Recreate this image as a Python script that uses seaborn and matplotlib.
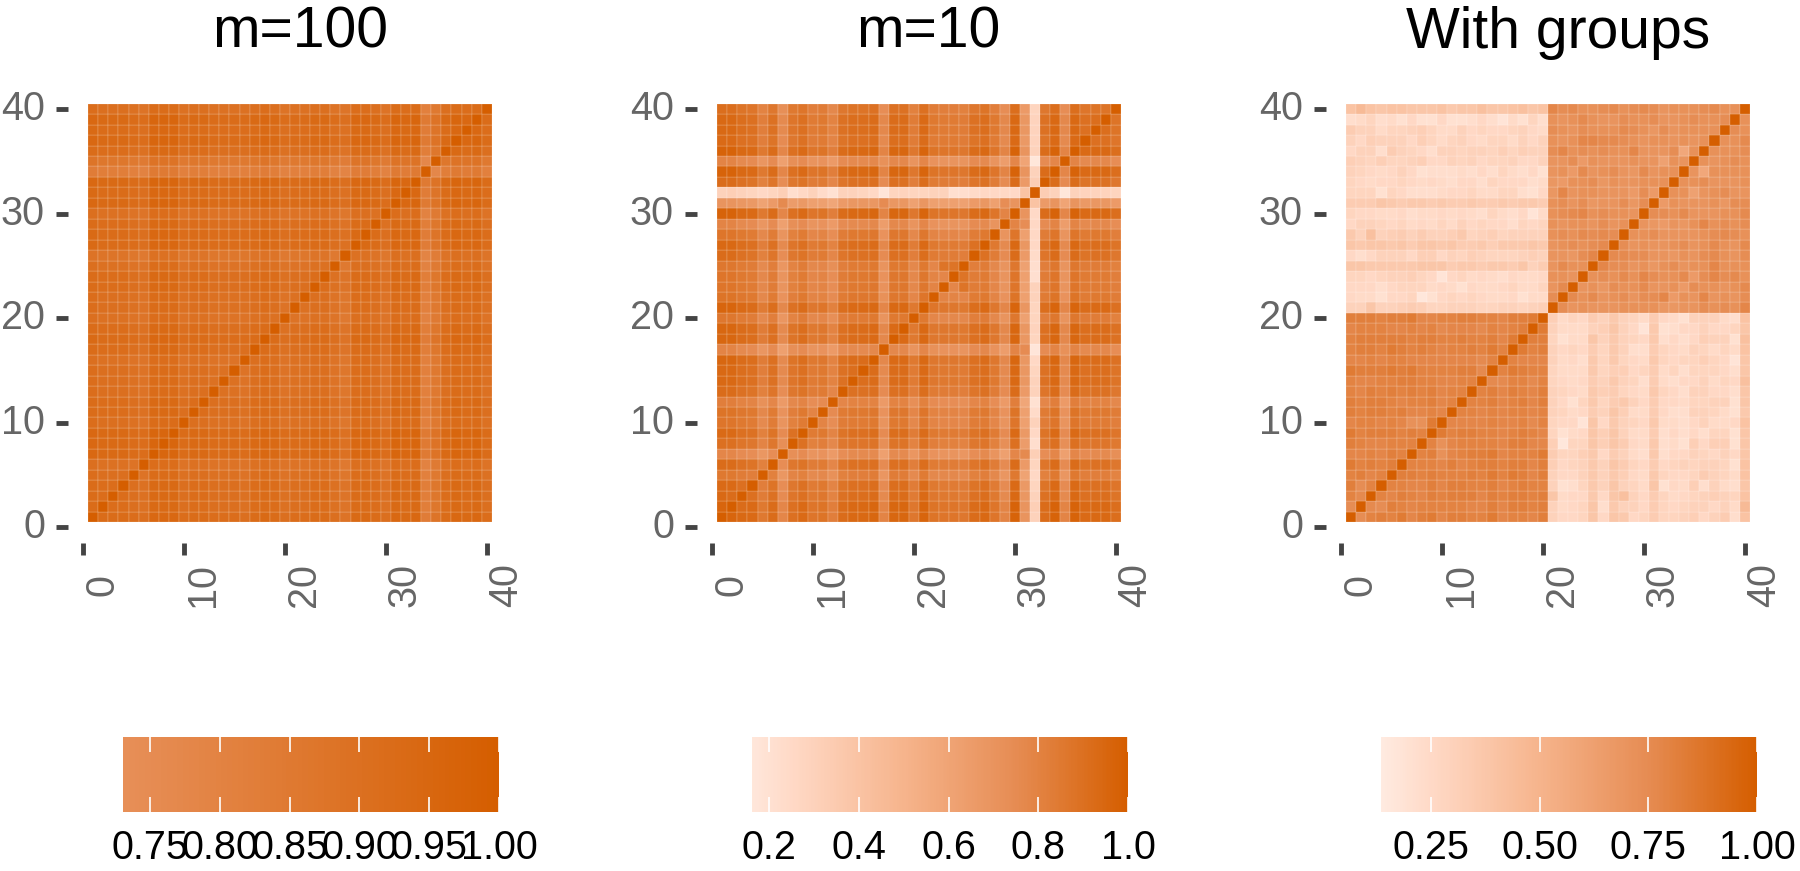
import numpy as np
import pandas as pd
import seaborn as sns
from matplotlib import pyplot as plt
from matplotlib.colors import LinearSegmentedColormap, ListedColormap

# lower triangles of the three similarity matrices, in percent, rows 2..40
m100_rows = """94
94 93
94 93 93
93 92 92 92
92 91 91 91 90
96 95 95 95 94 93
96 95 95 95 94 93 97
96 95 95 95 94 93 97 97
93 92 92 92 91 90 94 94 94
94 93 93 93 92 91 95 95 95 92
94 93 93 93 92 91 95 95 95 92 93
93 92 92 92 91 90 94 94 94 91 92 92
93 92 92 92 91 90 94 94 94 91 92 92 91
93 92 92 92 91 90 94 94 94 91 92 92 91 91
92 91 91 91 90 89 93 93 93 90 91 91 90 90 90
94 93 93 93 92 91 95 95 95 92 93 93 92 92 92 92
95 94 94 94 93 92 96 96 96 93 94 94 93 93 93 93 94
94 93 93 93 92 91 95 95 95 92 93 93 92 92 92 92 93 94
92 91 91 91 90 89 93 93 93 90 91 91 90 90 90 90 91 92 91
93 92 92 92 91 90 94 94 94 91 92 92 91 91 91 91 92 93 92 90
93 92 92 92 91 90 94 94 94 91 92 92 91 91 91 91 92 93 92 90 91
94 93 93 93 92 91 95 95 95 92 93 93 92 92 92 92 93 94 93 91 92 92
94 93 93 93 92 91 95 95 95 92 93 93 92 92 92 92 93 94 93 91 92 92 93
92 91 91 91 90 89 93 93 93 90 91 91 90 90 90 90 91 92 91 89 90 90 91 91
90 89 89 89 88 87 91 91 91 88 89 89 88 88 88 88 89 90 89 87 88 88 89 89 87
95 94 94 94 93 92 96 96 96 93 94 94 93 93 93 93 94 95 94 92 93 93 94 94 92 91
95 94 94 94 93 92 96 96 96 93 94 94 93 93 93 93 94 95 94 92 93 93 94 94 92 91 95
94 93 93 93 92 91 95 95 95 92 93 93 92 92 92 92 93 94 93 91 92 92 93 93 91 90 94 94
92 91 91 91 90 89 93 93 93 90 91 91 90 90 90 90 91 92 91 89 90 90 91 91 89 88 92 92 91
96 95 95 95 94 93 97 97 97 94 95 95 94 94 94 94 95 96 95 93 94 94 95 95 93 92 96 96 95 93
95 94 94 94 93 92 96 96 96 93 94 94 93 93 93 93 94 95 94 92 93 93 94 94 92 91 95 95 94 92 96
96 95 95 95 94 93 97 97 97 94 95 95 94 94 94 94 95 96 95 93 94 94 95 95 93 92 96 96 95 93 97 96
85 84 84 84 83 82 86 86 86 83 84 84 83 83 83 83 84 85 84 82 83 83 84 84 82 81 85 85 84 82 86 85 86
89 88 88 88 87 86 90 90 90 87 88 88 87 87 87 87 88 89 88 86 87 87 88 88 86 85 89 89 88 86 90 89 90 79
94 93 93 93 92 91 95 95 95 92 93 93 92 92 92 92 93 94 93 91 92 92 93 93 91 90 94 94 93 91 95 94 95 84 88
96 95 95 95 94 93 97 97 97 94 95 95 94 94 94 94 95 96 95 93 94 94 95 95 93 92 96 96 95 93 97 96 97 86 90 95
95 94 94 94 93 92 96 96 96 93 94 94 93 93 93 93 94 95 94 92 93 93 94 94 92 91 95 95 94 92 96 95 96 85 89 94 96
96 95 95 95 94 93 97 97 97 94 95 95 94 94 94 94 95 96 95 93 94 94 95 95 93 92 96 96 95 93 97 96 97 86 90 95 97 96
93 92 92 92 91 90 94 94 94 91 92 92 91 91 91 91 92 93 92 90 91 91 92 92 90 89 93 93 92 90 94 93 94 83 87 92 94 93 94"""

m10_rows = """96
94 92
93 93 90
85 85 83 82
92 92 89 88 81
78 78 75 74 68 74
90 90 87 86 79 86 73
93 93 90 89 81 88 75 89
87 87 85 84 76 83 70 81 84
88 88 86 85 77 84 71 82 85 79
82 82 80 79 72 78 66 77 79 74 75
92 92 89 88 81 87 74 86 88 83 84 78
94 94 91 90 82 89 76 87 90 84 85 80 89
94 94 91 90 82 89 76 87 90 84 85 80 89 91
95 95 92 91 83 90 76 88 91 85 86 80 90 92 92
79 79 76 75 69 75 63 73 75 70 71 66 75 76 76 77
95 95 92 91 83 90 76 88 91 85 86 80 90 92 92 93 77
95 95 92 91 83 90 76 88 91 85 86 80 90 92 92 93 77 93
86 86 84 83 76 82 69 80 83 77 78 73 82 84 84 85 70 85 85
96 96 93 92 84 91 77 89 92 86 87 81 91 93 93 94 78 94 94 85
88 88 86 85 77 84 71 82 85 79 80 75 84 86 86 86 72 86 86 78 87
87 87 85 84 77 83 70 81 84 78 79 74 83 85 85 86 71 86 86 77 86 79
87 87 85 84 77 83 70 81 84 78 79 74 83 85 85 86 71 86 86 77 86 79 78
86 86 84 83 76 82 69 80 83 77 78 73 82 84 84 85 70 85 85 77 85 78 88 88
92 92 89 88 81 87 74 86 88 83 84 78 87 89 89 90 75 90 90 82 91 84 83 83 82
94 94 91 90 82 89 76 87 90 84 85 80 89 91 91 92 77 92 92 83 93 85 84 84 83 89
87 87 85 84 77 83 70 81 84 78 79 74 83 85 85 86 71 86 86 77 86 79 78 78 77 83 85
79 79 76 75 69 75 63 73 75 70 71 66 75 76 76 77 64 77 77 70 78 71 70 70 70 75 76 70
97 97 94 93 85 92 78 90 93 87 88 82 92 94 94 95 79 95 95 86 96 88 87 87 86 92 94 87 79
70 70 68 67 61 66 76 65 67 63 63 59 66 68 68 68 75 68 68 62 69 63 63 63 62 66 68 63 74 70
30 32 30 28 26 28 32 22 26 30 24 20 30 30 28 26 17 28 29 28 28 30 30 21 22 24 26 26 26 25 40
92 92 89 88 81 87 74 86 88 83 84 78 87 89 89 90 75 90 90 82 91 84 83 83 82 87 89 83 75 92 66 33
97 97 94 93 85 92 78 90 93 87 88 82 92 94 94 95 79 95 95 86 96 88 87 87 86 92 94 87 79 97 70 30 92
79 79 76 75 69 75 63 73 75 70 71 66 75 76 76 77 72 77 77 70 78 71 70 70 70 75 76 70 64 78 60 15 75 78
97 97 94 93 85 92 78 90 93 87 88 82 92 94 94 95 79 95 95 86 96 88 87 87 86 92 94 87 79 97 70 30 92 97 79
93 93 90 89 82 88 75 86 89 83 84 79 88 90 90 91 76 91 91 83 92 84 84 84 83 88 90 84 76 93 67 29 88 93 76 93
94 94 91 90 82 89 76 87 90 84 85 80 89 91 91 92 77 92 92 83 93 85 84 84 83 89 91 85 77 94 68 29 89 94 77 94 90
94 94 91 90 82 89 76 87 90 84 85 80 89 91 91 92 77 92 92 83 93 85 84 84 83 89 91 85 77 94 68 29 89 94 77 94 90 91
91 91 88 87 80 86 73 85 87 82 83 77 86 88 88 89 74 89 89 81 90 83 82 82 81 86 88 82 74 91 66 28 86 91 74 91 87 88 88"""

groups_rows = """74
80 76
82 74 80
80 82 78 80
84 80 82 80 82
78 78 80 78 82 80
82 80 78 78 80 80 80
84 80 82 82 82 80 82 80
78 80 80 78 80 78 72 72 84
82 80 82 82 80 82 78 78 80 78
82 80 82 82 80 78 80 80 82 78 80
80 78 82 80 82 80 82 80 82 78 80 80
80 78 78 80 80 82 82 80 80 78 78 80 80
84 82 82 82 84 82 84 80 80 80 80 82 82 76
78 78 80 78 80 80 78 78 78 78 78 78 78 76 80
80 82 82 80 84 82 80 82 80 78 80 80 82 80 84 80
80 82 82 82 82 82 80 82 82 80 80 82 80 80 82 78 84
78 80 80 80 78 78 80 78 80 76 78 78 78 76 80 78 80 82
82 82 82 80 82 82 84 78 78 80 80 82 82 80 80 78 82 82 84
30 30 38 30 30 32 34 32 28 28 30 30 30 28 28 30 30 28 30 32
26 24 24 20 26 26 28 16 20 26 28 26 28 26 24 24 26 20 24 24 74
26 26 26 22 26 28 28 28 24 26 24 20 26 24 24 26 28 24 24 28 70 76
28 28 26 28 30 30 32 28 26 18 26 28 24 26 24 22 26 24 24 26 72 72 70
38 38 36 36 36 36 36 38 38 38 34 36 36 34 36 36 34 38 30 34 70 76 72 72
26 22 26 30 30 30 26 32 32 26 30 28 32 30 28 28 28 30 32 30 70 70 68 74 78
38 36 38 38 36 38 34 38 38 36 38 34 34 36 32 36 36 36 38 36 70 72 74 72 74 76
36 30 42 30 32 34 30 34 30 30 32 36 28 30 32 28 30 30 30 30 72 74 72 76 74 76 74
26 30 30 28 26 28 24 26 24 28 24 30 26 28 26 26 22 28 26 28 72 70 72 72 70 74 70 72
28 26 26 24 24 26 22 24 24 26 24 26 24 22 28 24 22 26 18 24 72 74 76 78 72 74 72 72 70
34 34 34 38 36 34 36 36 34 36 34 34 36 34 34 36 34 36 36 34 72 74 70 74 68 70 70 74 68 74
28 28 28 20 28 26 22 22 22 24 26 26 28 24 24 28 28 22 20 26 68 78 70 72 72 70 70 70 66 74 66
28 26 24 26 26 28 26 24 26 24 22 26 26 22 28 26 26 26 22 24 68 66 72 72 74 68 72 70 70 72 72 72
30 28 26 24 26 30 26 20 22 22 22 24 22 26 22 28 24 22 26 20 70 72 66 76 70 72 74 70 68 76 70 72 72
32 30 28 32 28 28 30 32 26 26 30 28 30 26 28 28 30 26 26 30 70 70 74 66 72 70 70 70 72 70 70 62 72 70
26 30 30 22 34 30 28 26 22 30 30 28 30 30 28 32 28 32 30 30 74 78 72 74 72 74 72 72 78 70 70 70 74 58 72
30 26 32 30 30 30 26 32 28 24 28 30 26 24 28 28 24 30 26 30 72 70 72 78 78 76 76 74 72 70 72 72 70 72 70 72
34 30 30 24 28 28 30 32 28 24 24 30 26 28 26 26 28 30 26 24 74 72 70 74 72 72 72 76 74 72 68 74 70 72 72 72 72
22 24 28 22 24 20 26 20 20 26 20 20 22 26 22 18 24 20 28 22 72 70 72 76 72 70 70 74 72 72 74 70 70 72 74 72 72 74
40 46 40 38 40 40 38 38 38 40 36 38 38 42 38 38 40 42 38 40 78 74 76 72 72 74 76 72 74 76 74 70 72 72 72 74 76 72 72"""

titles = ["m=100", "m=10", "With groups"]
axis_ticks = [0, 10, 20, 30, 40]
bar_mins = [0.7307, 0.162, 0.135]
bar_ticks = [[0.75, 0.80, 0.85, 0.90, 0.95, 1.00],
             [0.2, 0.4, 0.6, 0.8, 1.0],
             [0.25, 0.50, 0.75, 1.00]]
bar_labels = [["0.75", "0.80", "0.85", "0.90", "0.95", "1.00"],
              ["0.2", "0.4", "0.6", "0.8", "1.0"],
              ["0.25", "0.50", "0.75", "1.00"]]
ramp_colors = ["#FFFFFF", "#FFD9C6", "#F6B48C", "#E68C53", "#D55E00"]
# off-diagonal cells of each panel read slightly dark against the reference
offsets = [-0.015, 0.0, 0.0]

W, H = 1800, 871
panel_left = [68, 697, 1326]
bar_left = [123, 752, 1381]
bar_right = [499, 1128, 1757]


def to_matrix(text, offset):
    m = np.ones((40, 40))
    for i, line in enumerate(text.splitlines()):
        vals = [int(v) / 100 + offset for v in line.split()]
        assert len(vals) == i + 1, (i + 2, len(vals))
        for j, v in enumerate(vals):
            m[i + 1, j] = v
            m[j, i + 1] = v
    return m


def box(left, top, right, bottom):
    return [left / W, 1 - bottom / H, (right - left) / W, (bottom - top) / H]


sns.set_theme(style="white")
plt.rcParams['font.family'] = ['Liberation Sans', 'DejaVu Sans']

ramp = LinearSegmentedColormap.from_list("ramp", ramp_colors)
fig = plt.figure(figsize=(18, 8.71), dpi=100)

for k, rows in enumerate([m100_rows, m10_rows, groups_rows]):
    labels = range(1, 41)
    df = pd.DataFrame(to_matrix(rows, offsets[k]), index=labels, columns=labels)
    # same value gives same colour on every panel, so cut the ramp at the bar minimum
    cmap = ListedColormap(ramp(np.linspace(bar_mins[k], 1, 256)))

    ax = fig.add_axes(box(panel_left[k], 88, panel_left[k] + 439, 543))
    cax = fig.add_axes(box(bar_left[k], 737, bar_right[k], 812))
    sns.heatmap(df, ax=ax, cmap=cmap, vmin=bar_mins[k], vmax=1,
                linewidths=0.3, linecolor=(1, 1, 1, 0.4), antialiased=True,
                cbar_ax=cax, cbar_kws={'orientation': 'horizontal'})

    # heatmap cells sit on 0..40, the reference axis has cell i centred on i
    ax.set_xlim(-2, 41.5)
    ax.set_ylim(-2, 41.5)
    ax.set_xticks([t - 0.5 for t in axis_ticks])
    ax.set_yticks([t - 0.5 for t in axis_ticks])
    ax.set_xticklabels(axis_ticks, rotation=90, color='#666666', fontsize=28.5)
    ax.set_yticklabels(axis_ticks, rotation=0, color='#666666', fontsize=28.5)
    ax.tick_params(axis='both', length=8.6, width=3.5, color='#444444',
                   bottom=True, left=True)
    ax.tick_params(axis='y', pad=8)
    ax.tick_params(axis='x', pad=21.5)
    for t in ax.get_xticklabels():
        t.set_ha('left')
        t.set_va('center')
    ax.set_xlabel("")
    ax.set_ylabel("")
    for s in ax.spines.values():
        s.set_visible(False)
    ax.set_title(titles[k], fontsize=41, color='black', x=0.528, y=1.0, pad=29)

    cax.set_xticks(bar_ticks[k])
    cax.set_xticklabels(bar_labels[k], fontsize=28.5, color='black')
    cax.tick_params(axis='x', direction='in', length=11, width=1.2, color='white',
                    top=True, bottom=True, pad=12)
    cax.set_axisbelow(False)
    for s in cax.spines.values():
        s.set_visible(False)

fig.savefig("out.png", dpi=100)
